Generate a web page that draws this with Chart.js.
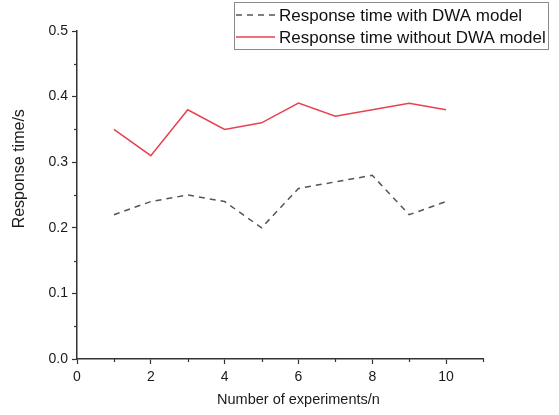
<!DOCTYPE html>
<html>
<head>
<meta charset="utf-8">
<script src="https://cdn.jsdelivr.net/npm/chart.js@4/dist/chart.umd.min.js"></script>
<style>
  html, body { margin: 0; padding: 0; background: #fff; }
  #wrap { width: 559px; height: 415px; position: relative; }
</style>
</head>
<body>
<div id="wrap"><canvas id="c" width="559" height="415"></canvas></div>
<script>
const experiments = [1, 2, 3, 4, 5, 6, 7, 8, 9, 10];
const withDWA = [0.22, 0.24, 0.25, 0.24, 0.20, 0.26, 0.27, 0.28, 0.22, 0.24];
const withoutDWA = [0.35, 0.31, 0.38, 0.35, 0.36, 0.39, 0.37, 0.38, 0.39, 0.38];
const seriesLabels = ['Response time with DWA model', 'Response time without DWA model'];
const xTitle = 'Number of experiments/n';
const yTitle = 'Response time/s';

const FONT = "'Liberation Sans', Arial, Helvetica, sans-serif";
const AXIS = '#333333';

const isMajorX = (v) => v % 2 === 0;
const isMajorY = (v) => { const t = v * 10; return Math.abs(t - Math.round(t)) < 1e-6; };

const overlayPlugin = {
  id: 'overlay',
  afterDraw(chart) {
    const ctx = chart.ctx;
    const xs = chart.scales.x, ys = chart.scales.y;
    const area = chart.chartArea;
    ctx.save();
    // minor ticks (shorter)
    ctx.strokeStyle = AXIS;
    ctx.lineWidth = 1.2;
    xs.ticks.forEach(t => {
      if (!isMajorX(t.value)) {
        const px = Math.round(xs.getPixelForValue(t.value)) + 0.5;
        ctx.beginPath();
        ctx.moveTo(px, area.bottom);
        ctx.lineTo(px, area.bottom + 3);
        ctx.stroke();
      }
    });
    ys.ticks.forEach(t => {
      if (!isMajorY(t.value)) {
        const py = Math.round(ys.getPixelForValue(t.value)) + 0.5;
        ctx.beginPath();
        ctx.moveTo(area.left, py);
        ctx.lineTo(area.left - 3, py);
        ctx.stroke();
      }
    });
    // axis titles
    ctx.fillStyle = '#1a1a1a';
    ctx.font = '14.5px ' + FONT;
    ctx.textAlign = 'center';
    ctx.textBaseline = 'middle';
    ctx.fillText(xTitle, xs.getPixelForValue(6), 400);
    ctx.save();
    ctx.translate(20, ys.getPixelForValue(0.29));
    ctx.rotate(-Math.PI / 2);
    ctx.font = '16px ' + FONT;
    ctx.fillText(yTitle, 0, 0);
    ctx.restore();
    // legend box
    const bx = 234.5, by = 2.5, bw = 314, bh = 47;
    ctx.fillStyle = '#fff';
    ctx.fillRect(bx, by, bw, bh);
    ctx.strokeStyle = '#8a8a8a';
    ctx.lineWidth = 1;
    ctx.strokeRect(bx, by, bw, bh);
    const rows = [15, 37];
    chart.data.datasets.forEach((ds, i) => {
      ctx.beginPath();
      ctx.strokeStyle = ds.borderColor;
      ctx.lineWidth = ds.borderWidth;
      ctx.setLineDash(ds.borderDash || []);
      ctx.moveTo(236, rows[i]);
      ctx.lineTo(275, rows[i]);
      ctx.stroke();
      ctx.setLineDash([]);
      ctx.fillStyle = '#111';
      ctx.font = '17px ' + FONT;
      ctx.textAlign = 'left';
      ctx.textBaseline = 'middle';
      ctx.fillText(ds.label, 279, rows[i] + 1);
    });
    ctx.restore();
  }
};

new Chart(document.getElementById('c'), {
  type: 'line',
  data: {
    datasets: [
      {
        label: seriesLabels[0],
        data: experiments.map((x, i) => ({ x: x, y: withDWA[i] })),
        borderColor: '#555555',
        borderWidth: 1.5,
        borderDash: [6, 5],
        pointRadius: 0,
        fill: false,
        tension: 0
      },
      {
        label: seriesLabels[1],
        data: experiments.map((x, i) => ({ x: x, y: withoutDWA[i] })),
        borderColor: '#e8414f',
        borderWidth: 1.5,
        pointRadius: 0,
        fill: false,
        tension: 0
      }
    ]
  },
  options: {
    responsive: false,
    animation: false,
    devicePixelRatio: 1,
    layout: { padding: { top: 31, right: 76, left: 0, bottom: 0 } },
    plugins: {
      legend: { display: false },
      tooltip: { enabled: false }
    },
    scales: {
      x: {
        type: 'linear',
        min: 0,
        max: 11,
        afterFit(s) { s.height = 56; },
        ticks: {
          stepSize: 1,
          color: '#1a1a1a',
          font: { family: FONT, size: 14 },
          padding: 5,
          maxRotation: 0,
          autoSkip: false,
          callback: (v) => (isMajorX(v) && v <= 10) ? String(v) : ''
        },
        grid: {
          drawOnChartArea: false,
          drawTicks: true,
          tickLength: 5,
          tickColor: (c) => (c.tick && isMajorX(c.tick.value)) ? AXIS : 'rgba(0,0,0,0)',
          tickWidth: 1.2
        },
        border: { color: AXIS, width: 1.5 }
      },
      y: {
        min: 0,
        max: 0.5,
        afterFit(s) { s.width = 77; },
        ticks: {
          stepSize: 0.05,
          color: '#1a1a1a',
          font: { family: FONT, size: 14 },
          padding: 4,
          autoSkip: false,
          callback: (v) => isMajorY(v) ? v.toFixed(1) : ''
        },
        grid: {
          drawOnChartArea: false,
          drawTicks: true,
          tickLength: 5,
          tickColor: (c) => (c.tick && isMajorY(c.tick.value)) ? AXIS : 'rgba(0,0,0,0)',
          tickWidth: 1.2
        },
        border: { color: AXIS, width: 1.5 }
      }
    }
  },
  plugins: [overlayPlugin]
});
</script>
</body>
</html>
